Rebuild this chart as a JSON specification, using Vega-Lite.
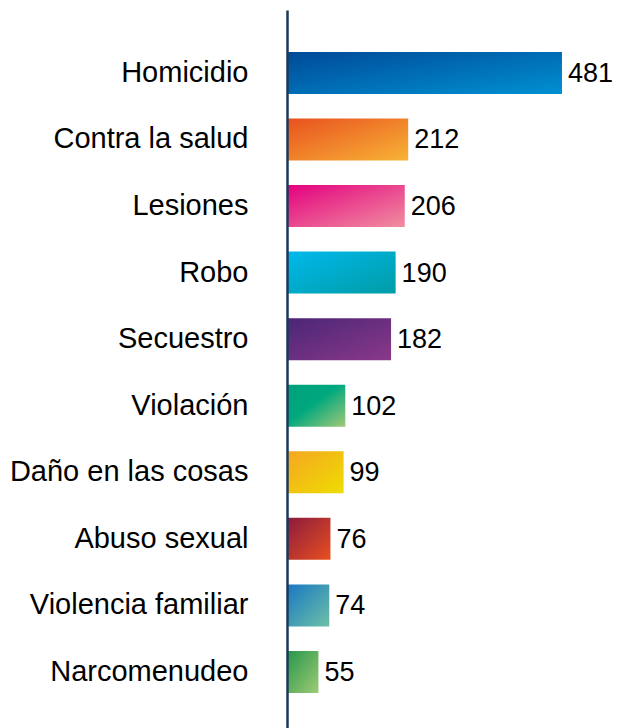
{
  "$schema": "https://vega.github.io/schema/vega-lite/v6.json",
  "width": 331,
  "height": 718,
  "autosize": {"type": "none"},
  "padding": {"left": 287, "top": 10, "right": 0, "bottom": 0},
  "background": "white",
  "config": {"view": {"stroke": null}, "font": "Liberation Sans"},
  "data": {"values": [
    {"delito": "Homicidio", "valor": 481},
    {"delito": "Contra la salud", "valor": 212},
    {"delito": "Lesiones", "valor": 206},
    {"delito": "Robo", "valor": 190},
    {"delito": "Secuestro", "valor": 182},
    {"delito": "Violación", "valor": 102},
    {"delito": "Daño en las cosas", "valor": 99},
    {"delito": "Abuso sexual", "valor": 76},
    {"delito": "Violencia familiar", "valor": 74},
    {"delito": "Narcomenudeo", "valor": 55}
  ]},
  "encoding": {
    "y": {
      "field": "delito", "type": "nominal", "sort": null,
      "scale": {"paddingInner": 0.369, "paddingOuter": 0.578, "align": 0.545},
      "axis": {
        "title": null, "ticks": false, "grid": false,
        "domainColor": "#1b3a57", "domainWidth": 2.5, "zindex": 1,
        "labelFontSize": 29, "labelColor": "#000000", "labelPadding": 39,
        "labelLimit": 320, "labelFont": "Liberation Sans"
      }
    },
    "x": {
      "field": "valor", "type": "quantitative",
      "scale": {"domain": [0, 579], "nice": false},
      "axis": null
    }
  },
  "layer": [
    {
      "mark": {"type": "bar"},
      "encoding": {
        "color": {
          "condition": [
            {"test": "datum.delito === 'Homicidio'", "value": {"gradient": "linear", "x1": 0, "y1": 0, "x2": 1, "y2": 1, "stops": [{"offset": 0, "color": "#004a97"}, {"offset": 1, "color": "#0090d2"}]}},
            {"test": "datum.delito === 'Contra la salud'", "value": {"gradient": "linear", "x1": 0, "y1": 0, "x2": 1, "y2": 1, "stops": [{"offset": 0, "color": "#e8511f"}, {"offset": 1, "color": "#f8b336"}]}},
            {"test": "datum.delito === 'Lesiones'", "value": {"gradient": "linear", "x1": 0, "y1": 0, "x2": 1, "y2": 1, "stops": [{"offset": 0, "color": "#e4007f"}, {"offset": 1, "color": "#f08fa0"}]}},
            {"test": "datum.delito === 'Robo'", "value": {"gradient": "linear", "x1": 0, "y1": 0, "x2": 1, "y2": 1, "stops": [{"offset": 0, "color": "#00b9ec"}, {"offset": 1, "color": "#009ca6"}]}},
            {"test": "datum.delito === 'Secuestro'", "value": {"gradient": "linear", "x1": 0, "y1": 0, "x2": 1, "y2": 1, "stops": [{"offset": 0, "color": "#4a2677"}, {"offset": 1, "color": "#8b3889"}]}},
            {"test": "datum.delito === 'Violación'", "value": {"gradient": "linear", "x1": 0, "y1": 0, "x2": 1, "y2": 1, "stops": [{"offset": 0, "color": "#00a07c"}, {"offset": 0.45, "color": "#00a87e"}, {"offset": 1, "color": "#a3c877"}]}},
            {"test": "datum.delito === 'Daño en las cosas'", "value": {"gradient": "linear", "x1": 0, "y1": 0, "x2": 1, "y2": 1, "stops": [{"offset": 0, "color": "#f5a623"}, {"offset": 1, "color": "#eedd00"}]}},
            {"test": "datum.delito === 'Abuso sexual'", "value": {"gradient": "linear", "x1": 0, "y1": 0, "x2": 1, "y2": 1, "stops": [{"offset": 0, "color": "#8b1a3e"}, {"offset": 1, "color": "#e8501f"}]}},
            {"test": "datum.delito === 'Violencia familiar'", "value": {"gradient": "linear", "x1": 0, "y1": 0, "x2": 1, "y2": 1, "stops": [{"offset": 0, "color": "#1877c2"}, {"offset": 1, "color": "#6ec0a8"}]}},
            {"test": "datum.delito === 'Narcomenudeo'", "value": {"gradient": "linear", "x1": 0, "y1": 0, "x2": 1, "y2": 1, "stops": [{"offset": 0, "color": "#26964a"}, {"offset": 1, "color": "#9ecb75"}]}}
          ],
          "value": "#888888"
        }
      }
    },
    {
      "mark": {"type": "text", "align": "left", "baseline": "middle", "dx": 6, "dy": 1, "fontSize": 27, "color": "#000000", "font": "Liberation Sans"},
      "encoding": {"text": {"field": "valor", "type": "quantitative"}}
    }
  ]
}
